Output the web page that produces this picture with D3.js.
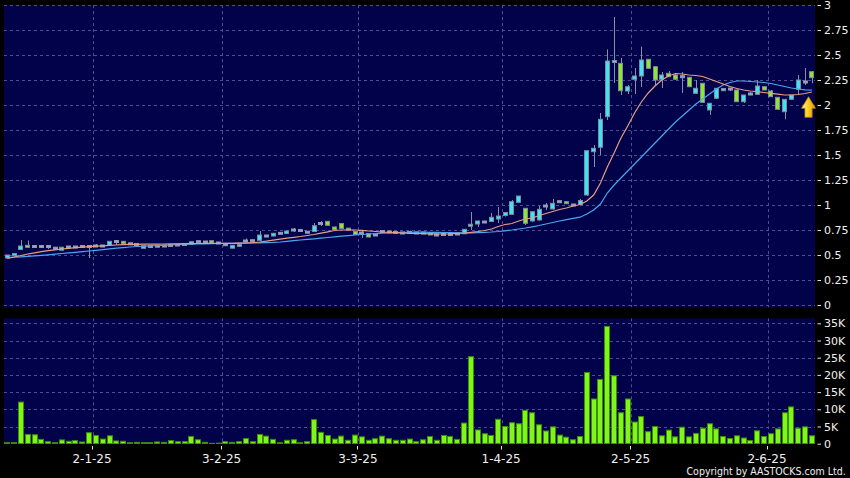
<!DOCTYPE html>
<html><head><meta charset="utf-8">
<script src="https://cdn.jsdelivr.net/npm/d3@7"></script>
<style>html,body{margin:0;padding:0;background:#000;}svg{display:block;}</style>
</head><body>
<svg id="c" width="850" height="478"></svg>
<script>
const dates = [
"12-12-24","13-12-24","16-12-24","17-12-24","18-12-24","19-12-24","20-12-24","23-12-24","24-12-24","27-12-24","30-12-24","31-12-24",
"2-1-25","3-1-25","6-1-25","7-1-25","8-1-25","9-1-25","10-1-25","13-1-25","14-1-25","15-1-25","16-1-25","17-1-25","20-1-25","21-1-25","22-1-25","23-1-25","24-1-25","27-1-25","28-1-25",
"3-2-25","4-2-25","5-2-25","6-2-25","7-2-25","10-2-25","11-2-25","12-2-25","13-2-25","14-2-25","17-2-25","18-2-25","19-2-25","20-2-25","21-2-25","24-2-25","25-2-25","26-2-25","27-2-25","28-2-25",
"3-3-25","4-3-25","5-3-25","6-3-25","7-3-25","10-3-25","11-3-25","12-3-25","13-3-25","14-3-25","17-3-25","18-3-25","19-3-25","20-3-25","21-3-25","24-3-25","25-3-25","26-3-25","27-3-25","28-3-25","31-3-25",
"1-4-25","2-4-25","3-4-25","7-4-25","8-4-25","9-4-25","10-4-25","11-4-25","14-4-25","15-4-25","16-4-25","17-4-25","22-4-25","23-4-25","24-4-25","25-4-25","28-4-25","29-4-25","30-4-25",
"2-5-25","6-5-25","7-5-25","8-5-25","9-5-25","12-5-25","13-5-25","14-5-25","15-5-25","16-5-25","19-5-25","20-5-25","21-5-25","22-5-25","23-5-25","26-5-25","27-5-25","28-5-25","29-5-25","30-5-25",
"2-6-25","3-6-25","4-6-25","5-6-25","6-6-25","9-6-25","10-6-25","11-6-25"];

const open = [
0.47,0.495,0.555,0.597,0.585,0.585,0.585,0.568,0.548,0.58,
0.58,0.585,0.585,0.59,0.59,0.60,0.635,0.637,0.612,0.605,
0.567,0.585,0.588,0.59,0.595,0.60,0.605,0.61,0.633,0.63,
0.643,0.62,0.603,0.568,0.587,0.64,0.643,0.647,0.69,0.69,
0.717,0.715,0.75,0.745,0.728,0.735,0.815,0.837,0.78,0.815,
0.765,0.735,0.72,0.715,0.70,0.735,0.73,0.725,0.72,0.725,
0.72,0.72,0.72,0.70,0.705,0.705,0.71,0.712,0.79,0.81,
0.83,0.835,0.86,0.895,0.907,1.027,0.967,0.84,0.85,0.99,
0.96,1.033,1.033,1.0,1.005,1.10,1.533,1.577,1.883,2.43,
2.417,2.14,2.257,2.29,2.457,2.383,2.257,2.317,2.30,2.283,
2.277,2.117,2.217,1.95,2.067,2.143,2.16,2.15,2.033,2.11,
2.107,2.183,2.14,2.077,1.933,2.057,2.157,2.23,2.333];
const high = [
0.50,0.52,0.65,0.645,0.595,0.59,0.59,0.575,0.58,0.585,
0.585,0.60,0.595,0.61,0.595,0.64,0.64,0.64,0.62,0.61,
0.595,0.59,0.595,0.595,0.60,0.61,0.61,0.635,0.64,0.635,
0.645,0.625,0.61,0.598,0.61,0.665,0.65,0.74,0.70,0.72,
0.73,0.745,0.77,0.75,0.735,0.82,0.84,0.84,0.785,0.82,
0.77,0.74,0.745,0.72,0.705,0.75,0.735,0.73,0.725,0.745,
0.725,0.725,0.725,0.705,0.71,0.71,0.715,0.76,0.93,0.845,
0.84,0.92,0.98,0.93,1.05,1.09,0.97,0.935,0.99,1.02,
1.06,1.04,1.04,1.01,1.06,1.55,1.60,1.92,2.557,2.88,
2.47,2.20,2.37,2.583,2.46,2.39,2.33,2.34,2.31,2.33,
2.28,2.25,2.22,2.02,2.17,2.17,2.17,2.16,2.10,2.13,
2.25,2.19,2.15,2.08,2.06,2.10,2.30,2.37,2.34];
const low = [
0.465,0.49,0.55,0.57,0.575,0.58,0.56,0.56,0.545,0.575,
0.575,0.58,0.47,0.585,0.585,0.595,0.60,0.61,0.605,0.60,
0.56,0.58,0.583,0.585,0.59,0.595,0.60,0.605,0.625,0.625,
0.615,0.615,0.595,0.565,0.583,0.635,0.64,0.645,0.685,0.685,
0.71,0.71,0.73,0.74,0.72,0.73,0.79,0.795,0.75,0.76,
0.75,0.70,0.67,0.675,0.695,0.72,0.725,0.72,0.715,0.72,
0.715,0.715,0.70,0.695,0.70,0.70,0.705,0.71,0.75,0.78,
0.82,0.83,0.82,0.885,0.90,1.02,0.80,0.835,0.845,0.95,
0.955,1.02,1.01,0.99,1.0,1.09,1.38,1.50,1.85,2.22,
2.10,2.11,2.11,2.18,2.36,2.20,2.17,2.28,2.25,2.12,
2.18,2.11,2.02,1.90,2.06,2.14,2.14,2.03,2.02,2.10,
2.10,2.15,2.08,1.95,1.857,2.05,2.10,2.20,2.217];
const close = [
0.50,0.515,0.59,0.577,0.585,0.585,0.585,0.568,0.578,0.58,
0.58,0.585,0.585,0.59,0.59,0.637,0.635,0.612,0.612,0.605,
0.593,0.585,0.588,0.59,0.595,0.60,0.605,0.633,0.633,0.63,
0.62,0.62,0.603,0.597,0.607,0.64,0.643,0.70,0.69,0.717,
0.717,0.74,0.75,0.745,0.728,0.793,0.815,0.797,0.755,0.765,
0.752,0.705,0.72,0.68,0.70,0.735,0.73,0.725,0.72,0.725,
0.72,0.72,0.70,0.70,0.705,0.705,0.71,0.757,0.805,0.84,
0.83,0.877,0.89,0.925,1.033,1.09,0.817,0.933,0.957,0.99,
1.017,1.033,1.013,1.0,1.045,1.543,1.567,1.857,2.44,2.44,
2.143,2.183,2.29,2.45,2.367,2.25,2.30,2.283,2.257,2.283,
2.183,2.167,2.027,2.017,2.167,2.165,2.16,2.033,2.10,2.11,
2.19,2.15,2.083,1.957,2.057,2.10,2.25,2.23,2.273];
const volume = [
300,300,12100,2700,2600,1250,600,300,1100,700,
900,500,3200,2400,1350,2300,800,700,300,400,
300,300,500,400,900,600,600,2100,1150,400,
100,150,600,400,600,1500,600,2700,2200,1250,
300,1000,1150,300,600,7000,3300,2400,1350,2200,
1000,2500,2000,1000,1450,2200,1450,1000,1000,1350,
600,1150,2100,1000,2400,2100,1250,6000,25300,4000,
2900,2400,7100,5000,6100,5800,9700,9000,5500,3700,
4900,2500,1900,1150,2100,20700,13000,18700,34100,19750,
9000,13000,6300,7900,3500,5000,2300,3950,2000,4800,
2000,3000,4500,5800,4300,2100,1500,2300,1650,900,
3750,2100,2900,4300,9000,10700,4500,4900,2300];
const ma10 = [
0.467,0.48,0.495,0.51,0.522,0.533,0.543,0.552,0.56,0.567,
0.573,0.578,0.583,0.588,0.592,0.596,0.60,0.603,0.606,0.607,
0.608,0.608,0.609,0.61,0.611,0.612,0.613,0.614,0.615,0.616,
0.617,0.617,0.617,0.617,0.618,0.62,0.624,0.63,0.638,0.648,
0.658,0.668,0.677,0.685,0.695,0.705,0.718,0.732,0.745,0.75,
0.752,0.75,0.746,0.74,0.735,0.73,0.727,0.724,0.72,0.717,
0.715,0.713,0.712,0.711,0.71,0.712,0.716,0.72,0.727,0.735,
0.745,0.76,0.785,0.805,0.815,0.84,0.86,0.87,0.895,0.915,
0.935,0.955,0.97,0.99,1.005,1.04,1.10,1.22,1.38,1.52,
1.67,1.79,1.92,2.03,2.12,2.19,2.25,2.29,2.315,2.31,
2.30,2.295,2.285,2.26,2.235,2.21,2.185,2.165,2.15,2.14,
2.133,2.125,2.117,2.108,2.10,2.10,2.105,2.115,2.13];
const ma20 = [
0.475,0.478,0.482,0.487,0.492,0.497,0.502,0.508,0.515,0.521,
0.527,0.533,0.54,0.547,0.554,0.561,0.568,0.574,0.58,0.585,
0.589,0.592,0.595,0.597,0.60,0.603,0.606,0.608,0.61,0.612,
0.614,0.615,0.616,0.617,0.618,0.619,0.62,0.622,0.624,0.626,
0.63,0.636,0.643,0.65,0.656,0.662,0.668,0.675,0.682,0.688,
0.694,0.70,0.705,0.71,0.714,0.718,0.721,0.724,0.726,0.727,
0.728,0.728,0.727,0.726,0.725,0.723,0.722,0.721,0.722,0.724,
0.727,0.73,0.735,0.742,0.75,0.76,0.77,0.782,0.795,0.81,
0.825,0.84,0.853,0.866,0.878,0.91,0.95,1.01,1.12,1.20,
1.27,1.34,1.41,1.48,1.55,1.62,1.69,1.76,1.83,1.89,
1.95,2.01,2.06,2.11,2.16,2.20,2.225,2.24,2.24,2.235,
2.23,2.225,2.215,2.20,2.185,2.17,2.16,2.152,2.148];
const priceTicks = [0,0.25,0.5,0.75,1,1.25,1.5,1.75,2,2.25,2.5,2.75,3];
const priceTickLabels = ["0","0.25","0.5","0.75","1","1.25","1.5","1.75","2","2.25","2.5","2.75","3"];
const volumeTicks = [0,5000,10000,15000,20000,25000,30000,35000];
const volumeTickLabels = ["0","5K","10K","15K","20K","25K","30K","35K"];
const dateTickLabels = ["2-1-25","3-2-25","3-3-25","1-4-25","2-5-25","2-6-25"];
const copyright = "Copyright by AASTOCKS.com Ltd.";

const svg = d3.select("#c");
const n = dates.length;
const idx = d3.range(n);
const P = {x0:4, x1:815, y0:5, y1:307.5};
const V = {x0:4, x1:815, y0:318.3, y1:444};
const FONT = "DejaVu Sans, Verdana, sans-serif";

const r0 = 3.9, r1 = 3.9 + 119*6.818;
const xC = d3.scaleBand().domain(dates).range([r0, r1]).paddingInner(0.27).paddingOuter(0.135);
const xV = d3.scaleBand().domain(dates).range([r0, r1]).paddingInner(0.12).paddingOuter(0.06);
const step = xC.step();
const cx = d => xC(d) + xC.bandwidth()/2;
const yP = d3.scaleLinear().domain([0,3]).range([305,5]);
const yV = d3.scaleLinear().domain([0,35000]).range([443.7,323.3]);

svg.append("rect").attr("width",850).attr("height",478).attr("fill","#000");
svg.append("rect").attr("x",P.x0).attr("y",P.y0).attr("width",P.x1-P.x0).attr("height",P.y1-P.y0).attr("fill","#02024a");
svg.append("rect").attr("x",V.x0).attr("y",V.y0).attr("width",V.x1-V.x0).attr("height",V.y1-V.y0).attr("fill","#02024a");

const defs = svg.append("defs");
defs.append("clipPath").attr("id","cp").append("rect").attr("x",P.x0).attr("y",P.y0).attr("width",P.x1-P.x0).attr("height",P.y1-P.y0);
defs.append("clipPath").attr("id","cv").append("rect").attr("x",V.x0).attr("y",V.y0).attr("width",V.x1-V.x0).attr("height",V.y1-V.y0);
const grad = defs.append("linearGradient").attr("id","ag").attr("x1","0").attr("x2","1").attr("y1","0").attr("y2","0");
grad.append("stop").attr("offset","0").attr("stop-color","#fff3a8");
grad.append("stop").attr("offset","0.45").attr("stop-color","#ffcf2a");
grad.append("stop").attr("offset","1").attr("stop-color","#e09a00");

const gridColor = "#4d4d8f";
const tickIdx = dateTickLabels.map(l => dates.indexOf(l));
const gx = d => xC(dates[d]) - xC.paddingOuter()*step + step; // band end

// price grid
const gp = svg.append("g").attr("clip-path","url(#cp)");
gp.selectAll("line.h").data(priceTicks).join("line")
  .attr("x1",P.x0).attr("x2",P.x1).attr("y1",d=>Math.round(yP(d))+0.5).attr("y2",d=>Math.round(yP(d))+0.5)
  .attr("stroke",gridColor).attr("stroke-dasharray","3,3");
gp.selectAll("line.v").data(tickIdx).join("line")
  .attr("x1",d=>Math.round(gx(d))+0.5).attr("x2",d=>Math.round(gx(d))+0.5).attr("y1",P.y0).attr("y2",P.y1)
  .attr("stroke",gridColor).attr("stroke-dasharray","3,3");
// volume grid
const gv = svg.append("g").attr("clip-path","url(#cv)");
gv.selectAll("line.h").data(volumeTicks.slice(1)).join("line")
  .attr("x1",V.x0).attr("x2",V.x1).attr("y1",d=>Math.round(yV(d))+0.5).attr("y2",d=>Math.round(yV(d))+0.5)
  .attr("stroke",gridColor).attr("stroke-dasharray","3,3");
gv.selectAll("line.v").data(tickIdx).join("line")
  .attr("x1",d=>Math.round(gx(d))+0.5).attr("x2",d=>Math.round(gx(d))+0.5).attr("y1",V.y0).attr("y2",V.y1)
  .attr("stroke",gridColor).attr("stroke-dasharray","3,3");

// candles
const cg = svg.append("g").attr("clip-path","url(#cp)");
cg.selectAll("line.wick").data(idx).join("line")
  .attr("x1",i=>Math.round(cx(dates[i]))+0.5).attr("x2",i=>Math.round(cx(dates[i]))+0.5)
  .attr("y1",i=>yP(high[i])).attr("y2",i=>yP(low[i]))
  .attr("stroke","#8a8ea8").attr("stroke-width",1);
const UP="#3fe3f2", DN="#8ee82a", FLAT="#9aa6bc";
cg.selectAll("rect.body").data(idx).join("rect")
  .attr("x",i=>Math.round(xC(dates[i]))+0.5)
  .attr("width",Math.round(xC.bandwidth())-1)
  .attr("y",i=>{const a=yP(Math.max(open[i],close[i])), b=yP(Math.min(open[i],close[i])); return (b-a<2)?(a+b)/2-1:a;})
  .attr("height",i=>{const h=Math.abs(yP(open[i])-yP(close[i])); return Math.max(h,2);})
  .attr("fill",i=>close[i]>open[i]?UP:(close[i]<open[i]?DN:FLAT))
  .attr("stroke",i=>close[i]===open[i]?"#8f9ab0":"#7d8aa0").attr("stroke-width",1);

// MA lines
const line = arr => d3.line().x((v,i)=>cx(dates[i])).y(v=>yP(v))(arr);
cg.append("path").attr("d",line(ma20)).attr("fill","none").attr("stroke","#4aa6ee").attr("stroke-width",1.2);
cg.append("path").attr("d",line(ma10)).attr("fill","none").attr("stroke","#e89c80").attr("stroke-width",1.2);

// arrow
const ax = cx(dates[n-2]) + 3.5;
const ayTip = yP(2.083), ayBase = yP(1.967), ayBot = yP(1.877);
svg.append("path")
  .attr("d",`M${ax},${ayTip} L${ax+7},${ayBase} L${ax+3.6},${ayBase} L${ax+3.6},${ayBot} L${ax-3.6},${ayBot} L${ax-3.6},${ayBase} L${ax-7},${ayBase} Z`)
  .attr("fill","url(#ag)").attr("stroke","#b87d00").attr("stroke-width",0.8);

// volume bars
const vg = svg.append("g").attr("clip-path","url(#cv)");
vg.selectAll("rect").data(idx).join("rect")
  .attr("x",i=>Math.round(xV(dates[i]))+0.5)
  .attr("width",Math.round(xV.bandwidth())-1)
  .attr("y",i=>yV(volume[i]))
  .attr("height",i=>Math.max(yV(0)-yV(volume[i]),1))
  .attr("fill","#7ef718").attr("stroke","#3f8a06").attr("stroke-width",1);

// y axes
const styleAxis = g => {
  g.select(".domain").remove();
  g.selectAll(".tick line").attr("stroke","#e0e0e0");
  g.selectAll(".tick text").attr("fill","#f0f0f0").style("font-family",FONT).style("font-size","11px");
};
svg.append("g").attr("transform","translate(817.5,0)")
  .call(d3.axisRight(yP).tickValues(priceTicks).tickSize(3.5).tickPadding(3).tickFormat((d,i)=>priceTickLabels[i]))
  .call(styleAxis);
svg.append("g").attr("transform","translate(817.5,0)")
  .call(d3.axisRight(yV).tickValues(volumeTicks).tickSize(3.5).tickPadding(3).tickFormat((d,i)=>volumeTickLabels[i]))
  .call(styleAxis);

// x axis
const xg = svg.append("g");
xg.selectAll("line").data(tickIdx).join("line")
  .attr("x1",d=>Math.round(gx(d))-0.5).attr("x2",d=>Math.round(gx(d))-0.5).attr("y1",446).attr("y2",449.5)
  .attr("stroke","#e0e0e0");
xg.selectAll("text").data(tickIdx).join("text")
  .attr("x",d=>gx(d)-0.5).attr("y",462.5).attr("text-anchor","middle")
  .attr("fill","#f0f0f0").style("font-family",FONT).style("font-size","12px")
  .text((d,k)=>dateTickLabels[k]);

svg.append("g").attr("transform","translate(686.5,474.5) scale(0.86,1)")
  .append("text").attr("x",0).attr("y",0)
  .attr("fill","#f0f0f0").style("font-family",FONT).style("font-size","11px").text(copyright);
</script>
</body></html>
